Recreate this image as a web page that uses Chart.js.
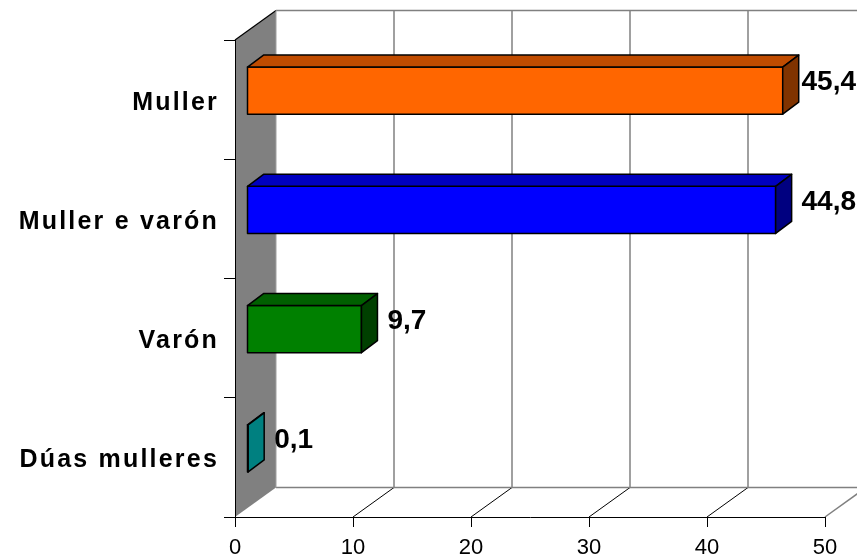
<!DOCTYPE html>
<html>
<head>
<meta charset="utf-8">
<script src="https://cdn.jsdelivr.net/npm/chart.js@4.4.1/dist/chart.umd.min.js"></script>
<style>
  html, body { margin: 0; padding: 0; background: #fff; }
  #wrap { width: 857px; height: 558px; }
</style>
</head>
<body>
<div id="wrap"><canvas id="chart" width="857" height="558"></canvas></div>
<script>
const categories = ['Muller', 'Muller e varón', 'Varón', 'Dúas mulleres'];
const values = [45.4, 44.8, 9.7, 0.1];
const tickValues = [0, 10, 20, 30, 40, 50];

const frontColors = ['#FF6600', '#0000FF', '#008000', '#008080'];
const topColors = ['#C04C00', '#0000C0', '#006000', '#006060'];
const sideColors = ['#803300', '#000080', '#004000', '#008080'];

const FONT = 'Arial, "Liberation Sans", sans-serif';

// 3D offsets (depth of the walls, position and depth of the bars)
const WALL_DX = 41, WALL_DY = -29.5;
const BAR_DX = 12, BAR_DY = -9;
const BOX_DX = 16, BOX_DY = -12;

function poly(ctx, pts, fill, stroke, lw) {
    ctx.beginPath();
    ctx.moveTo(pts[0][0], pts[0][1]);
    for (let i = 1; i < pts.length; i++) ctx.lineTo(pts[i][0], pts[i][1]);
    ctx.closePath();
    if (fill) { ctx.fillStyle = fill; ctx.fill(); }
    if (stroke) { ctx.strokeStyle = stroke; ctx.lineWidth = lw || 1; ctx.stroke(); }
}

function line(ctx, x1, y1, x2, y2, color, lw) {
    ctx.beginPath();
    ctx.moveTo(x1, y1);
    ctx.lineTo(x2, y2);
    ctx.strokeStyle = color;
    ctx.lineWidth = lw;
    ctx.stroke();
}

const walls3d = {
    id: 'walls3d',
    beforeDraw(chart) {
        const ctx = chart.ctx, a = chart.chartArea, xs = chart.scales.x;
        const backTop = a.top + WALL_DY, backBottom = a.bottom + WALL_DY;
        const backLeft = a.left + WALL_DX;
        const backRight = xs.getPixelForValue(xs.max) + WALL_DX;
        ctx.save();

        // left wall
        poly(ctx, [[a.left, a.top], [backLeft, backTop], [backLeft, backBottom], [a.left, a.bottom]], '#808080');
        line(ctx, a.left, a.top, backLeft, backTop, '#000', 1.2);

        // back wall grid lines + floor lines
        tickValues.forEach(v => {
            const fx = xs.getPixelForValue(v);
            const bx = fx + WALL_DX;
            if (v > 0) {
                line(ctx, bx, backTop, bx, backBottom, '#808080', 1.5);
                if (v < xs.max) line(ctx, fx, a.bottom, bx, backBottom, '#000', 1);
                else line(ctx, fx, a.bottom, bx, backBottom, '#808080', 1.5);
            }
        });
        line(ctx, backLeft, backTop, backRight, backTop, '#808080', 1.5);
        line(ctx, backLeft, backBottom, backRight, backBottom, '#808080', 1.5);
        line(ctx, backLeft, backTop, backLeft, backBottom, '#a0a0a0', 1);
        ctx.restore();

        // wider letter spacing for the category labels
        const ys = chart.scales.y;
        if (!ys._spaced) {
            const orig = ys.drawLabels.bind(ys);
            ys.drawLabels = function(area) {
                ctx.save();
                ctx.letterSpacing = '2.2px';
                orig(area);
                ctx.restore();
            };
            ys._spaced = true;
        }
    },
    beforeDatasetDraw() {
        return false;
    },
    afterDatasetsDraw(chart) {
        const ctx = chart.ctx;
        const meta = chart.getDatasetMeta(0);
        ctx.save();
        ctx.lineJoin = 'round';
        ctx.font = 'bold 28px ' + FONT;
        meta.data.forEach((bar, i) => {
            const p = bar.getProps(['x', 'y', 'base', 'height'], true);
            const x0 = p.base + BAR_DX, x1 = p.x + BAR_DX;
            const y0 = p.y + BAR_DY - p.height / 2, y1 = p.y + BAR_DY + p.height / 2;
            // front
            poly(ctx, [[x0, y0], [x1, y0], [x1, y1], [x0, y1]], frontColors[i], '#000', 1.5);
            // top
            poly(ctx, [[x0, y0], [x0 + BOX_DX, y0 + BOX_DY], [x1 + BOX_DX, y0 + BOX_DY], [x1, y0]], topColors[i], '#000', 1.5);
            // side
            poly(ctx, [[x1, y0], [x1 + BOX_DX, y0 + BOX_DY], [x1 + BOX_DX, y1 + BOX_DY], [x1, y1]], sideColors[i], '#000', 1.5);

            // value label, kept inside the canvas
            const txt = values[i].toFixed(1).replace('.', ',');
            const w = ctx.measureText(txt).width;
            const lx = Math.min(x1 + BOX_DX + 10, chart.width - w - 1);
            ctx.fillStyle = '#000';
            ctx.textAlign = 'left';
            ctx.textBaseline = 'middle';
            ctx.fillText(txt, lx, p.y - 17);
        });
        ctx.restore();
    }
};

new Chart(document.getElementById('chart'), {
    type: 'bar',
    data: {
        labels: categories,
        datasets: [{
            data: values,
            backgroundColor: frontColors,
            borderColor: '#000',
            borderWidth: 1,
            barPercentage: 0.395,
            categoryPercentage: 1
        }]
    },
    options: {
        indexAxis: 'y',
        responsive: false,
        animation: false,
        layout: { padding: { top: 40, right: 32, left: 0, bottom: 0 } },
        plugins: {
            legend: { display: false },
            tooltip: { enabled: false }
        },
        scales: {
            x: {
                min: 0,
                max: 50,
                afterBuildTicks: scale => { scale.ticks = tickValues.map(v => ({ value: v })); },
                ticks: {
                    color: '#000',
                    padding: 8,
                    font: { family: FONT, size: 22 }
                },
                grid: { drawOnChartArea: false, tickLength: 10, color: '#000' },
                border: { color: '#000', width: 1 },
                afterFit: scale => { scale.height = 41; }
            },
            y: {
                ticks: {
                    color: '#000',
                    padding: 5,
                    labelOffset: 3,
                    font: { family: FONT, size: 25, weight: 'bold' }
                },
                grid: { drawOnChartArea: false, tickLength: 11, color: '#000', offset: true },
                border: { color: '#000', width: 1 },
                afterFit: scale => { scale.width = 235; }
            }
        }
    },
    plugins: [walls3d]
});
</script>
</body>
</html>
